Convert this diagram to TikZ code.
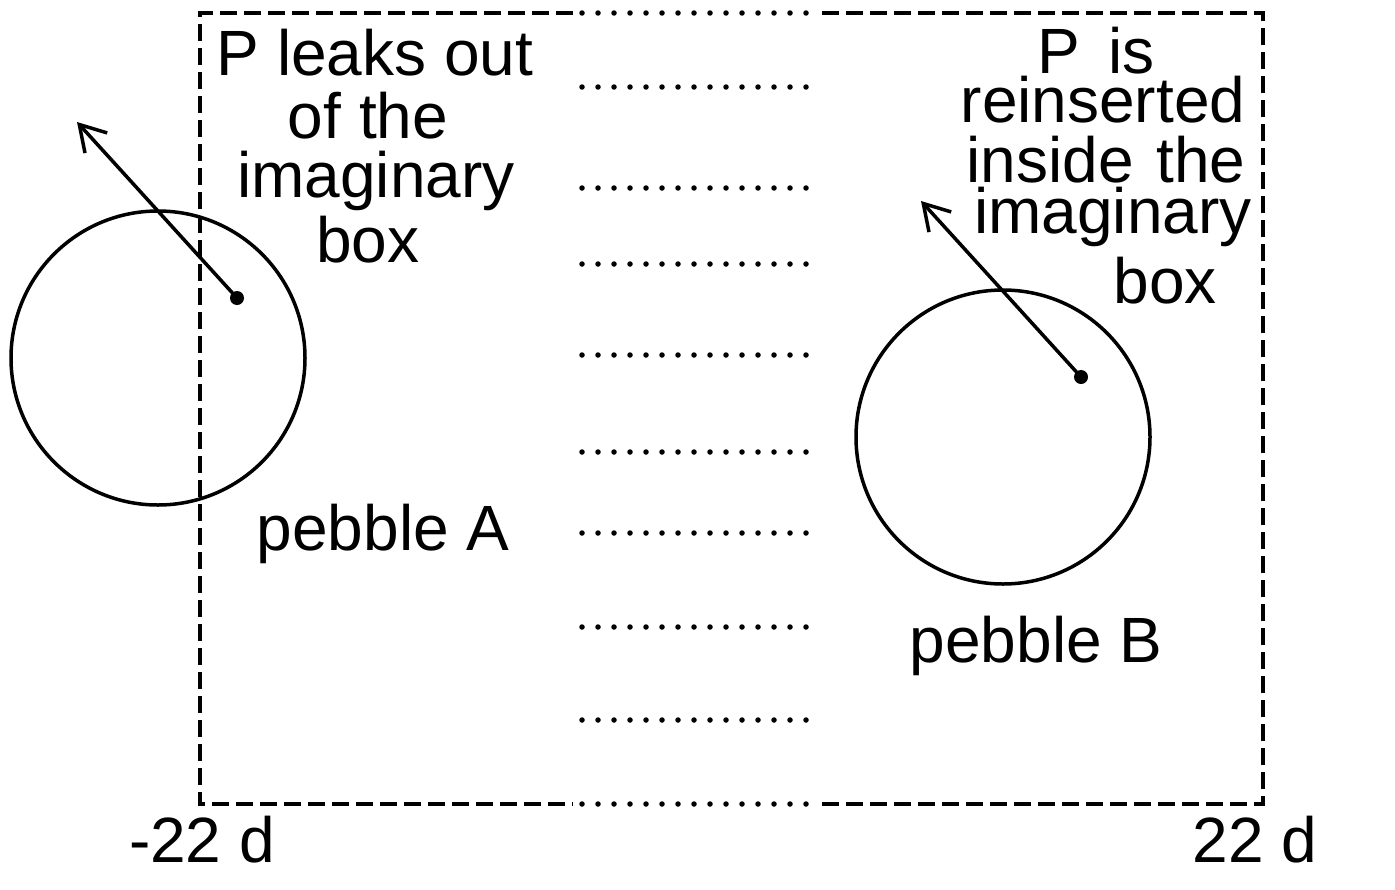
\documentclass[tikz,border=0pt]{standalone}
\usepackage{fontspec}
\setmainfont{Liberation Sans}
\usetikzlibrary{arrows.meta}
\begin{document}
\begin{tikzpicture}[x=1pt,y=-1pt,
  txt/.style={font=\fontsize{64}{64}\selectfont, inner sep=0pt, anchor=base},
  dashedge/.style={line width=3.5pt, dash pattern=on 17pt off 7pt},
  dotrow/.style={line width=5.5pt, line cap=round, dash pattern=on 0pt off 16pt},
  pebble/.style={circle, draw, line width=3.5pt, minimum size=294pt, inner sep=0pt},
  pdot/.style={circle, fill, minimum size=14pt, inner sep=0pt},
  mv/.style={line width=3.5pt, -{Straight Barb[length=25pt,width=30pt,line width=3.5pt]}}]
\useasboundingbox (0,0) rectangle (1395,889);
% imaginary box
\coordinate (TL) at (200,13);
\coordinate (TR) at (1263,13);
\coordinate (BL) at (200,804);
\coordinate (BR) at (1263,804);
\coordinate (tm1) at (573,13);
\coordinate (tm2) at (822,13);
\coordinate (bm1) at (573,804);
\coordinate (bm2) at (822,804);
\draw[dashedge] (tm1) -- (TL) -- (BL) -- (bm1);
\draw[dashedge] (tm2) -- (TR) -- (BR) -- (bm2);
% dotted rows
\foreach \yy in {13,87,188,264,355,452,533,627,720,804}
  \draw[dotrow] (582,\yy) -- (815,\yy);
% pebbles
\node[pebble] (cA) at (158,358) {};
\node[pebble] (cB) at (1003,437) {};
\node[pdot] (pA) at (237,298) {};
\node[pdot] (pB) at (1081,377) {};
\coordinate (aA) at (77,122);
\coordinate (aB) at (921,201);
\draw[mv] (pA.center) -- (aA);
\draw[mv] (pB.center) -- (aB);
% left text
\node[txt] (l1) at (375,75) {P leaks out};
\node[txt] (l2) at (368,138) {of the};
\node[txt] (l3) at (376,197) {imaginary};
\node[txt] (l4) at (368,262) {box};
% right text
\node[txt] (r1) at (1096,73) {P\hspace{0.45em}is};
\node[txt] (r2) at (1103,122) {reinserted};
\node[txt] (r3) at (1106,182) {inside\hspace{0.35em}the};
\node[txt] (r4) at (1113,233) {imaginary};
\node[txt] (r5) at (1165,303) {box};
% labels
\node[txt] (la) at (383,550) {pebble A};
\node[txt] (lb) at (1036,662) {pebble B};
\node[txt] (xl) at (202,862) {-22 d};
\node[txt] (xr) at (1255,862) {22 d};
\end{tikzpicture}
\end{document}
